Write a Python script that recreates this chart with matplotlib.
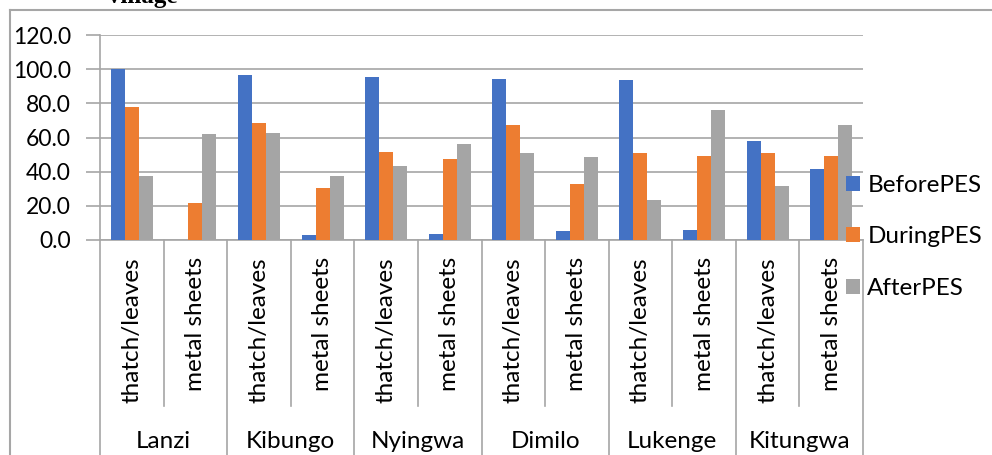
import matplotlib.pyplot as plt
import numpy as np
from matplotlib.lines import Line2D

plt.rcParams['font.family'] = ['Lato', 'DejaVu Sans']

# Data (percent of households by roof material, per village)
villages = ["Lanzi", "Kibungo", "Nyingwa", "Dimilo", "Lukenge", "Kitungwa"]
roof_types = ["thatch/leaves", "metal sheets"]
before_pes = [100.0, 0.0, 96.5, 2.9, 95.7, 3.7, 94.3, 5.5, 93.5, 6.0, 58.1, 41.3]
during_pes = [77.7, 21.9, 68.7, 30.7, 51.8, 47.7, 67.3, 32.5, 50.7, 48.9, 50.7, 48.9]
after_pes = [37.6, 62.0, 62.4, 37.2, 43.6, 56.0, 51.1, 48.5, 23.3, 76.3, 31.9, 67.5]
series_names = ["BeforePES", "DuringPES", "AfterPES"]
colors = ["#4472C4", "#ED7D31", "#A5A5A5"]

W, H = 992, 455
grey = "#A6A6A6"

fig = plt.figure(figsize=(W / 100, H / 100), dpi=100)
ax = fig.add_axes([100 / W, (H - 240) / H, (863 - 100) / W, (240 - 35) / H])

x = np.arange(len(villages) * len(roof_types))
bw = 0.22
bars = []
for i, (vals, c) in enumerate(zip([before_pes, during_pes, after_pes], colors)):
    bars.append(ax.bar(x + (i - 1) * bw, vals, width=bw, color=c, zorder=3))

ax.set_xlim(-0.5, len(x) - 0.5)
ax.set_ylim(0, 120)
ax.set_yticks(np.arange(0, 121, 20))
ax.set_yticklabels([f"{v:.1f}" for v in np.arange(0, 121, 20)], fontsize=16.5)
ax.tick_params(axis='y', length=10, width=1.2, color=grey, pad=11)
ax.set_xticks([])
ax.grid(axis='y', color=grey, linewidth=1.2, zorder=0)

for s in ['top', 'right']:
    ax.spines[s].set_visible(False)
ax.spines['left'].set_color(grey)
ax.spines['bottom'].set_color(grey)
ax.spines['left'].set_linewidth(1.2)
ax.spines['bottom'].set_linewidth(1.2)

# two-level category axis below the plot
tr = ax.get_xaxis_transform()
px = 1 / 205  # one pixel in axes fraction (vertical)
for k in range(len(x) + 1):
    bottom = -1.2 if k % 2 == 0 else -(406 - 240) * px
    ax.add_line(Line2D([k - 0.5, k - 0.5], [0, bottom], transform=tr,
                       color=grey, linewidth=1.2, clip_on=False))
for k in x:
    ax.text(k, -(257 - 240) * px, roof_types[k % 2], transform=tr, rotation=90,
            ha='center', va='top', fontsize=17.5)
for g, name in enumerate(villages):
    ax.text(2 * g + 0.5, -(441 - 240) * px, name, transform=tr,
            ha='center', va='center', fontsize=17.5)

ax.legend([b[0] for b in bars], series_names, loc='upper left',
          bbox_to_anchor=(846 / W, 1 - 175 / H), bbox_transform=fig.transFigure,
          frameon=False, fontsize=17.5, handlelength=0.58, handleheight=0.58,
          handletextpad=0.3, labelspacing=1.25, borderpad=0, borderaxespad=0)

# chart border and clipped title above
fig.add_artist(Line2D([10 / W, 1], [1 - 10 / H, 1 - 10 / H], color=grey, linewidth=1.5))
fig.add_artist(Line2D([10 / W, 10 / W], [0, 1 - 10 / H], color=grey, linewidth=1.5))
fig.text(108 / W, 1 - 3 / H, "village", family='Liberation Serif', fontweight='bold',
         fontsize=18, ha='left', va='baseline')

fig.savefig("out.png", dpi=100)
